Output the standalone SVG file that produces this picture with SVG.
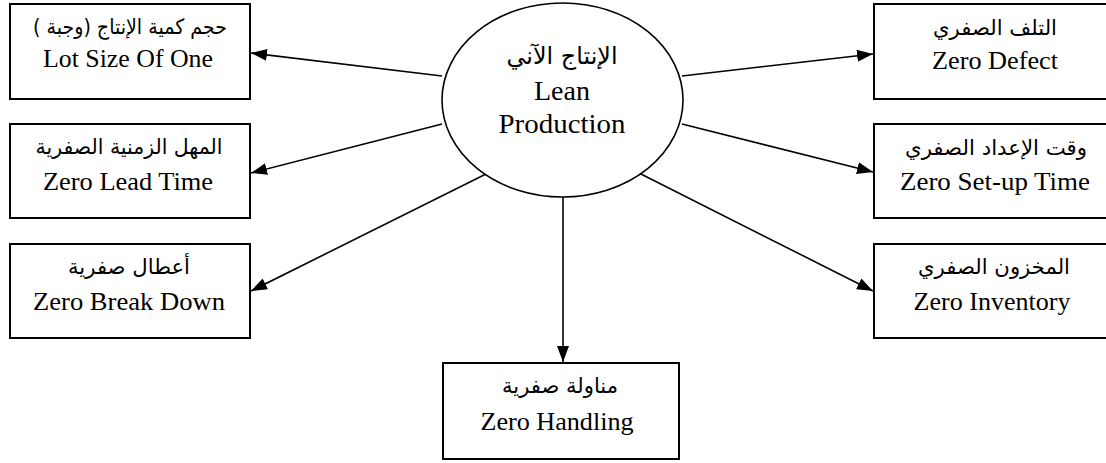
<svg xmlns="http://www.w3.org/2000/svg" width="1106" height="463" viewBox="0 0 1106 463">
<style>
.box{fill:#fff;stroke:#000;stroke-width:2}
.ell{fill:#fff;stroke:#000;stroke-width:1.6}
.en{font-family:"Liberation Serif","Times New Roman",serif;font-size:25px;fill:#000;text-anchor:middle}
.enb{font-family:"Liberation Serif","Times New Roman",serif;font-size:28px;fill:#000;text-anchor:middle}
.ar{font-family:"DejaVu Sans",sans-serif;font-size:21px;fill:#000;text-anchor:middle}
.arb{font-family:"DejaVu Sans",sans-serif;font-size:24px;fill:#000;text-anchor:middle}
.conn line{stroke:#000;stroke-width:1.6;fill:none}
</style>
<defs>
<marker id="ahb" viewBox="0 0 16 12" refX="16" refY="6" markerWidth="16" markerHeight="12" markerUnits="userSpaceOnUse" orient="auto">
<path d="M0,0 L16,6 L0,12 Z" fill="#000"/>
</marker>
</defs>
<rect width="1106" height="463" fill="#fff"/>
<g id="connectors" class="conn">
<line x1="442" y1="76" x2="251" y2="53" marker-end="url(#ahb)"/>
<line x1="442" y1="124" x2="251" y2="173" marker-end="url(#ahb)"/>
<line x1="490" y1="172" x2="251" y2="291" marker-end="url(#ahb)"/>
<line x1="682" y1="76" x2="873" y2="54" marker-end="url(#ahb)"/>
<line x1="682" y1="124" x2="873" y2="172" marker-end="url(#ahb)"/>
<line x1="635" y1="171" x2="873" y2="291" marker-end="url(#ahb)"/>
<line x1="563" y1="197" x2="563" y2="362" marker-end="url(#ahb)"/>
</g>
<g id="center">
<ellipse class="ell" cx="562.5" cy="100" rx="120.5" ry="97"/>
<text class="arb" x="562" y="64" textLength="111" lengthAdjust="spacingAndGlyphs" direction="rtl">الإنتاج الآني</text>
<text class="enb" x="562" y="100">Lean</text>
<text class="enb" x="562" y="133" textLength="127" lengthAdjust="spacingAndGlyphs">Production</text>
</g>
<g id="lot-size">
<rect class="box" x="10" y="4" width="240" height="95"/>
<text class="ar" x="130" y="34" textLength="194" lengthAdjust="spacingAndGlyphs" direction="rtl">حجم كمية الإنتاج (وجبة )</text>
<text class="en" x="128" y="67" textLength="170" lengthAdjust="spacingAndGlyphs">Lot Size Of One</text>
</g>
<g id="lead-time">
<rect class="box" x="10" y="124" width="240" height="94"/>
<text class="ar" x="129" y="154" textLength="187" lengthAdjust="spacingAndGlyphs" direction="rtl">المهل الزمنية الصفرية</text>
<text class="en" x="128" y="190" textLength="170" lengthAdjust="spacingAndGlyphs">Zero Lead Time</text>
</g>
<g id="break-down">
<rect class="box" x="10" y="244" width="240" height="94"/>
<text class="ar" x="129" y="274" textLength="122" lengthAdjust="spacingAndGlyphs" direction="rtl">أعطال صفرية</text>
<text class="en" x="129" y="310" textLength="192" lengthAdjust="spacingAndGlyphs">Zero Break Down</text>
</g>
<g id="defect">
<rect class="box" x="874" y="4" width="240" height="95"/>
<text class="ar" x="995" y="35" textLength="124" lengthAdjust="spacingAndGlyphs" direction="rtl">التلف الصفري</text>
<text class="en" x="995" y="69" textLength="126" lengthAdjust="spacingAndGlyphs">Zero Defect</text>
</g>
<g id="setup-time">
<rect class="box" x="874" y="124" width="240" height="94"/>
<text class="ar" x="996" y="155" textLength="182" lengthAdjust="spacingAndGlyphs" direction="rtl">وقت الإعداد الصفري</text>
<text class="en" x="995" y="190" textLength="190" lengthAdjust="spacingAndGlyphs">Zero Set-up Time</text>
</g>
<g id="inventory">
<rect class="box" x="874" y="244" width="240" height="94"/>
<text class="ar" x="994" y="274" textLength="152" lengthAdjust="spacingAndGlyphs" direction="rtl">المخزون الصفري</text>
<text class="en" x="992" y="310" textLength="157" lengthAdjust="spacingAndGlyphs">Zero Inventory</text>
</g>
<g id="handling">
<rect class="box" x="443" y="363" width="236" height="96"/>
<text class="ar" x="560" y="393" textLength="116" lengthAdjust="spacingAndGlyphs" direction="rtl">مناولة صفرية</text>
<text class="en" x="557" y="430" textLength="153" lengthAdjust="spacingAndGlyphs">Zero Handling</text>
</g>
</svg>
